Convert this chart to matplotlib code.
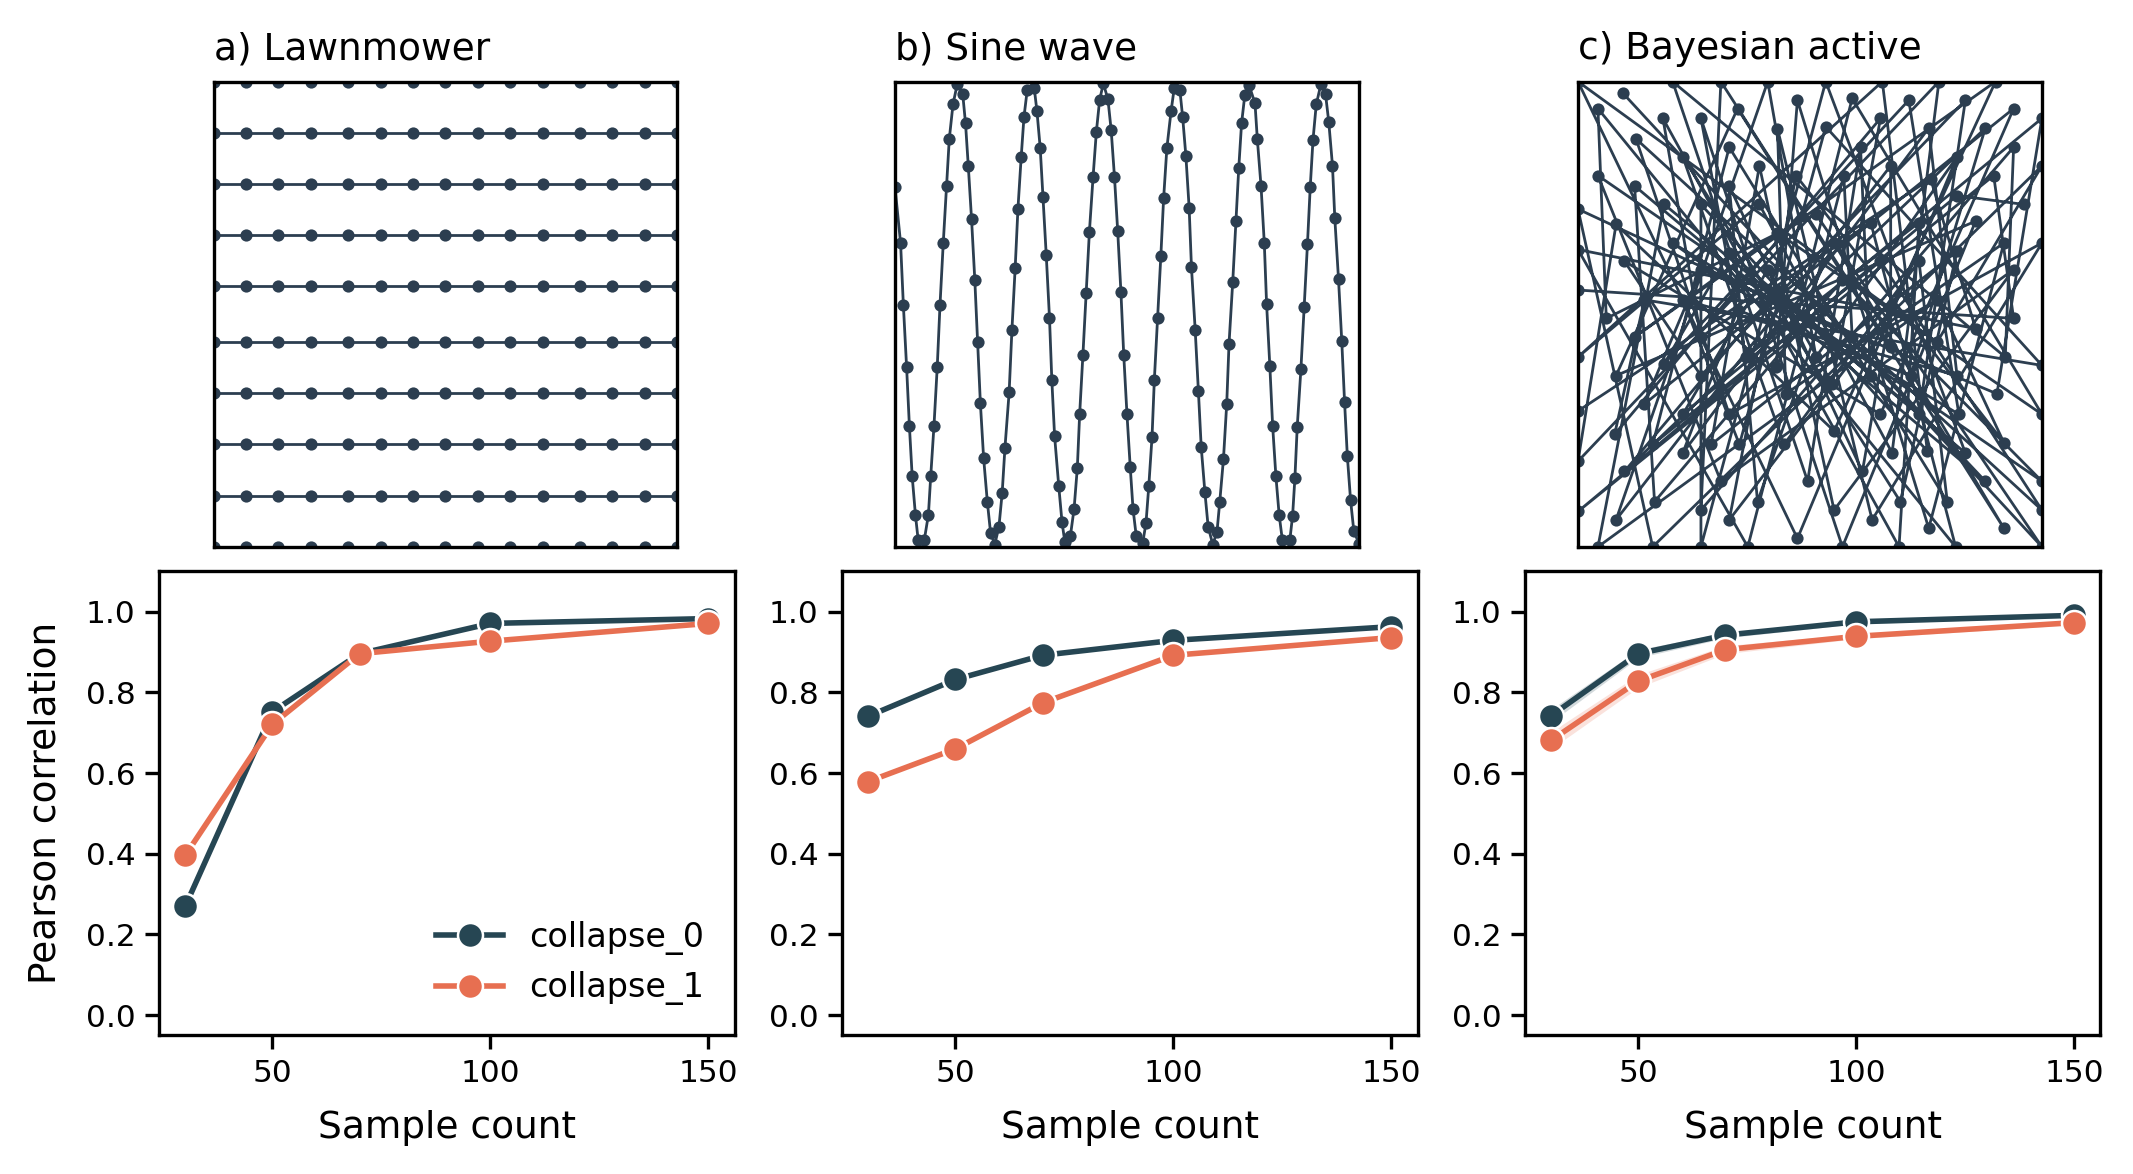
import matplotlib
matplotlib.use("Agg")
import matplotlib.pyplot as plt

# ---- data ----
sample_counts = [30, 50, 70, 100, 150]

# Pearson correlation per sampling pattern
lawn_c0 = [0.27, 0.752, 0.896, 0.971, 0.983]
lawn_c1 = [0.396, 0.721, 0.896, 0.927, 0.971]
sine_c0 = [0.741, 0.832, 0.892, 0.929, 0.963]
sine_c1 = [0.579, 0.660, 0.774, 0.892, 0.936]
bayes_c0 = [0.742, 0.896, 0.942, 0.975, 0.991]
bayes_c1 = [0.681, 0.828, 0.906, 0.939, 0.973]
bayes_c0_lo = [0.726, 0.886, 0.935, 0.970, 0.987]
bayes_c0_hi = [0.758, 0.906, 0.949, 0.980, 0.995]
bayes_c1_lo = [0.660, 0.812, 0.896, 0.933, 0.968]
bayes_c1_hi = [0.702, 0.844, 0.916, 0.945, 0.978]

# lawnmower grid (field units 0-100)
lawn_cols = [0, 7, 14, 21, 29, 36, 43, 50, 57, 64, 71, 79, 86, 93, 100]
lawn_rows = [100, 89, 78, 67, 56, 44, 33, 22, 11, 0]

# sine-wave track
sine_x = [0.0, 1.2, 1.8, 2.5, 3.1, 3.7, 4.4, 5.0, 6.3, 7.2, 7.7, 8.4, 9.1, 9.7,
          10.4, 11.1, 11.7, 12.5, 13.4, 14.6, 15.2, 15.8, 16.5, 17.2, 17.8, 18.4,
          19.1, 19.9, 20.6, 21.5, 22.4, 23.1, 23.7, 24.6, 25.2, 25.9, 26.5, 27.2,
          27.8, 28.5, 30.0, 30.6, 31.3, 31.9, 32.6, 33.3, 33.8, 34.4, 35.3, 36.0,
          36.6, 37.8, 38.6, 39.3, 39.8, 40.5, 41.2, 41.9, 42.7, 43.4, 44.1, 44.9,
          45.9, 46.6, 47.3, 48.0, 48.7, 49.3, 50.0, 50.7, 51.3, 52.0, 53.4, 54.1,
          54.7, 55.4, 55.9, 56.6, 57.3, 57.9, 58.6, 59.5, 60.2, 61.4, 62.0, 62.7,
          63.4, 63.9, 64.7, 65.4, 66.0, 66.8, 67.5, 68.5, 69.4, 70.0, 70.8, 71.5,
          72.0, 72.8, 73.5, 74.1, 74.7, 75.4, 76.3, 77.6, 78.1, 78.9, 79.6, 80.1,
          80.8, 81.4, 82.1, 82.8, 83.5, 85.1, 85.7, 86.2, 86.7, 87.5, 88.2, 88.9,
          89.5, 90.1, 90.8, 91.8, 92.8, 93.5, 94.3, 94.8, 95.6, 96.3, 96.9, 97.5,
          98.2, 98.9, 100.0]
sine_y = [77.3, 65.3, 52.0, 38.6, 26.0, 15.2, 6.9, 1.4, 1.4, 6.9, 15.2, 26.0, 38.6,
          52.0, 65.3, 77.5, 87.7, 95.1, 99.4, 97.3, 91.0, 81.8, 70.4, 57.4, 44.0,
          30.9, 19.1, 9.7, 3.0, 0.5, 4.3, 11.6, 21.3, 33.2, 46.6, 59.9, 72.7, 83.8,
          92.4, 98.2, 98.7, 93.6, 85.7, 75.1, 62.7, 49.2, 35.9, 23.8, 13.0, 5.3,
          1.1, 2.3, 8.2, 17.0, 28.5, 41.2, 54.5, 67.7, 79.6, 89.2, 96.0, 99.6,
          96.2, 89.5, 79.6, 67.9, 54.7, 41.3, 28.5, 17.2, 8.2, 2.3, 0.9, 5.1, 13.0,
          23.6, 35.9, 49.1, 62.5, 74.9, 85.7, 93.6, 98.7, 98.2, 92.4, 84.0, 72.9,
          60.1, 46.7, 33.4, 21.5, 11.7, 4.3, 0.5, 3.2, 9.7, 18.9, 30.7, 43.7, 57.0,
          70.0, 81.5, 91.0, 97.1, 99.3, 95.3, 87.6, 77.5, 65.3, 52.1, 38.8, 26.0,
          15.2, 6.9, 1.4, 1.4, 6.7, 14.8, 25.8, 38.3, 51.6, 65.0, 77.3, 87.5, 95.1,
          99.4, 97.3, 91.3, 81.9, 70.6, 57.5, 44.2, 31.2, 19.5, 10.0, 3.4, 0.7]

# bayesian active sampling track, in visiting order
bayes_path = [
    (9.7, 97.5), (100, 0), (51.3, 71.5), (6.1, 49.1),
    (4.3, 94.2), (81.4, 0), (63.1, 69.7), (26.5, 45.1),
    (18.3, 92.1), (69.2, 0), (73.5, 69.7), (36.2, 40.8),
    (26.5, 92.1), (57.0, 0), (85.7, 70.0), (8.2, 36.8),
    (34.4, 94.2), (91.8, 4.0), (55.2, 65.3), (42.7, 38.6),
    (47.3, 96.0), (75.6, 4.0), (91.8, 65.3), (44.8, 32.9),
    (43.0, 89.9), (63.4, 5.8), (100, 65.3), (32.6, 28.5),
    (12.5, 87.7), (100, 7.9), (65.2, 61.4), (16.1, 22.0),
    (32.6, 85.9), (79.6, 9.7), (73.5, 61.4), (44.4, 22.0),
    (22.6, 83.8), (69.5, 9.7), (81.7, 63.5), (28.7, 22.0),
    (39.1, 81.9), (55.2, 7.9), (93.9, 59.6), (30.8, 14.1),
    (4.3, 79.8), (100, 14.1), (57.0, 57.4), (16.5, 9.7),
    (12.2, 77.6), (87.8, 14.1), (53.0, 50.9), (38.7, 9.7),
    (32.6, 77.6), (61.3, 16.2), (67.4, 50.9), (32.6, 5.8),
    (47.0, 79.8), (91.8, 22.4), (77.4, 53.1), (4.3, 0),
    (18.6, 73.6), (83.5, 20.2), (53.4, 100), (26.5, 0),
    (26.5, 73.6), (75.3, 20.6), (65.6, 100), (0, 40.8),
    (39.1, 73.6), (67.7, 20.2), (77.8, 100), (0, 18.4),
    (8.2, 69.3), (55.2, 24.9), (90.0, 100), (12.2, 45.1),
    (43.0, 67.5), (100, 28.5), (59.1, 96.4), (46.6, 46.9),
    (20.4, 65.3), (82.1, 28.5), (71.3, 96.0), (18.6, 39.4),
    (32.6, 63.2), (73.5, 28.5), (83.5, 96.0), (26.5, 36.8),
    (10.0, 61.4), (65.2, 28.5), (93.9, 94.2), (14.3, 30.7),
    (26.5, 59.6), (90.3, 32.9), (100, 92.1), (22.6, 28.5),
    (40.9, 59.6), (54.8, 35.0), (65.2, 92.1), (7.9, 24.2),
    (14.3, 53.1), (100, 39.0), (53.4, 90.3), (34.8, 22.0),
    (22.6, 53.1), (81.7, 36.8), (75.6, 90.0), (22.6, 20.2),
    (34.4, 50.9), (71.7, 36.8), (87.8, 90.0), (10.0, 16.2),
    (43.0, 55.2), (63.1, 36.8), (60.9, 85.9), (49.5, 14.1),
    (20.4, 100), (92.1, 40.8), (93.9, 85.9), (26.5, 7.9),
    (30.8, 100), (67.4, 43.0), (67.4, 81.9), (8.2, 5.8),
    (40.9, 100), (51.3, 40.8), (81.7, 83.8), (47.3, 1.8),
    (0, 100), (77.4, 44.0), (100, 81.9), (16.1, 0),
    (0, 72.6), (59.1, 45.1), (57.3, 79.8), (36.6, 0),
    (0, 63.9), (85.7, 46.9), (76.0, 79.1), (0, 29.2),
    (0, 55.2), (93.9, 49.1), (89.6, 79.8), (0, 7.6),
    (81.7, 75.5), (96.1, 73.6),
]

titles = ["a) Lawnmower", "b) Sine wave", "c) Bayesian active"]
series_names = ["collapse_0", "collapse_1"]

# ---- style ----
path_color = "#2c3e50"
c0_color = "#264653"
c1_color = "#e76f51"

plt.rcParams["font.family"] = ["DejaVu Sans"]

fig = plt.figure(figsize=(10.665, 5.87), dpi=200)

top_lefts = [0.1001, 0.4196, 0.7398]
bot_lefts = [0.0746, 0.3948, 0.7149]

# lawnmower path: snake across rows
lawn_x, lawn_y = [], []
for i, r in enumerate(lawn_rows):
    cols = lawn_cols if i % 2 == 0 else lawn_cols[::-1]
    lawn_x += cols
    lawn_y += [r] * len(cols)

paths = [
    (lawn_x, lawn_y),
    (sine_x, sine_y),
    ([p[0] for p in bayes_path], [p[1] for p in bayes_path]),
]

for k in range(3):
    ax = fig.add_axes([top_lefts[k], 0.5342, 0.2175, 0.3963])
    px, py = paths[k]
    ax.plot(px, py, "-o", color=path_color, lw=1.0, ms=4.4, mew=0)
    ax.set_xlim(0, 100)
    ax.set_ylim(0, 100)
    ax.set_xticks([])
    ax.set_yticks([])
    for s in ax.spines.values():
        s.set_linewidth(1.2)
    ax.set_title(titles[k], loc="left", fontsize=13.5, pad=8)

results = [
    (lawn_c0, lawn_c1),
    (sine_c0, sine_c1),
    (bayes_c0, bayes_c1),
]

for k in range(3):
    ax = fig.add_axes([bot_lefts[k], 0.1182, 0.2698, 0.3951])
    c0, c1 = results[k]
    if k == 2:
        ax.fill_between(sample_counts, bayes_c0_lo, bayes_c0_hi, color=c0_color, alpha=0.2, lw=0)
        ax.fill_between(sample_counts, bayes_c1_lo, bayes_c1_hi, color=c1_color, alpha=0.2, lw=0)
    ax.plot(sample_counts, c0, "-o", color=c0_color, lw=2, ms=9, mec="white", mew=0.9,
            label=series_names[0])
    ax.plot(sample_counts, c1, "-o", color=c1_color, lw=2, ms=9, mec="white", mew=0.9,
            label=series_names[1])
    ax.set_xlim(24, 156)
    ax.set_ylim(-0.05, 1.1)
    ax.set_xticks([50, 100, 150])
    ax.set_yticks([0.0, 0.2, 0.4, 0.6, 0.8, 1.0])
    ax.tick_params(labelsize=11.2, length=5, width=1.2)
    for s in ax.spines.values():
        s.set_linewidth(1.2)
    ax.set_xlabel("Sample count", fontsize=13.5, labelpad=8)
    if k == 0:
        ax.set_ylabel("Pearson correlation", fontsize=13.5, labelpad=8)
        ax.legend(loc="lower right", frameon=False, fontsize=12, handlelength=2.0)

fig.savefig("out.png", dpi=200)
